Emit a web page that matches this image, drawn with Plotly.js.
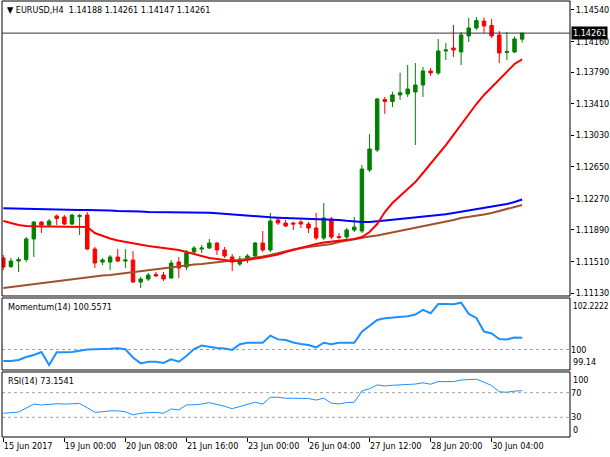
<!DOCTYPE html>
<html><head><meta charset="utf-8">
<script src="https://cdn.plot.ly/plotly-3.0.1.min.js"></script>
<style>html,body{margin:0;padding:0;background:#fff;}#chart{width:610px;height:457px;}</style>
</head><body><div id="chart"></div>
<script>
const symbol = "EURUSD,H4";
const open  = [1.11552,1.11448,1.11515,1.11533,1.11781,1.11985,1.11949,1.12058,1.12046,1.11961,1.12052,1.12070,1.11660,1.11503,1.11503,1.11564,1.11515,1.11528,1.11262,1.11299,1.11353,1.11347,1.11311,1.11503,1.11443,1.11624,1.11660,1.11672,1.11732,1.11648,1.11564,1.11479,1.11540,1.11576,1.11732,1.11648,1.12010,1.11973,1.11973,1.11985,1.11961,1.11913,1.11793,1.12022,1.11811,1.11805,1.11889,1.11877,1.12612,1.12853,1.13462,1.13437,1.13516,1.13528,1.13552,1.13636,1.13805,1.13781,1.14046,1.14082,1.14034,1.14227,1.14323,1.14407,1.14353,1.14239,1.14028,1.14034,1.14188];
const high  = [1.11588,1.11552,1.11564,1.11805,1.11997,1.11997,1.12022,1.12076,1.12070,1.12082,1.12082,1.12106,1.11684,1.11552,1.11588,1.11660,1.11660,1.11636,1.11323,1.11371,1.11383,1.11383,1.11528,1.11564,1.11648,1.11696,1.11708,1.11781,1.11744,1.11684,1.11600,1.11576,1.11600,1.11744,1.11877,1.12094,1.12034,1.12010,1.11991,1.12010,1.11985,1.12094,1.12214,1.12046,1.11853,1.11913,1.12046,1.12672,1.13046,1.13480,1.13492,1.13556,1.13784,1.13877,1.13901,1.13853,1.13841,1.14191,1.14142,1.14359,1.14275,1.14444,1.14456,1.14450,1.14432,1.14287,1.14275,1.14221,1.14261];
const low   = [1.11407,1.11431,1.11383,1.11503,1.11564,1.11853,1.11925,1.11949,1.11949,1.11949,1.11829,1.11648,1.11431,1.11467,1.11407,1.11503,1.11431,1.11250,1.11190,1.11274,1.11323,1.11274,1.11299,1.11311,1.11407,1.11612,1.11612,1.11660,1.11588,1.11552,1.11395,1.11455,1.11491,1.11564,1.11624,1.11624,1.11949,1.11925,1.11889,1.11913,1.11853,1.11769,1.11769,1.11781,1.11775,1.11781,1.11865,1.11853,1.12588,1.12829,1.13287,1.13371,1.13456,1.13492,1.12913,1.13492,1.13745,1.13757,1.13938,1.13974,1.13877,1.14154,1.14299,1.14263,1.14203,1.13901,1.13938,1.14022,1.14147];
const close = [1.11443,1.11515,1.11533,1.11781,1.11985,1.11949,1.11997,1.12028,1.11961,1.12070,1.12064,1.11660,1.11491,1.11528,1.11564,1.11515,1.11528,1.11262,1.11299,1.11347,1.11335,1.11299,1.11491,1.11431,1.11612,1.11672,1.11672,1.11732,1.11648,1.11576,1.11503,1.11540,1.11576,1.11732,1.11648,1.11997,1.11973,1.11937,1.11961,1.11961,1.11913,1.11793,1.12034,1.11805,1.11799,1.11889,1.11925,1.12624,1.12865,1.13468,1.13437,1.13516,1.13543,1.13588,1.13636,1.13805,1.13781,1.14046,1.14058,1.14058,1.14239,1.14323,1.14413,1.14347,1.14227,1.14022,1.14040,1.14191,1.14261];

const maRed   = [1.11997,1.11973,1.11949,1.11937,1.11931,1.11931,1.11931,1.11931,1.11925,1.11931,1.11931,1.11925,1.11853,1.11817,1.11787,1.11762,1.11744,1.11726,1.11708,1.11696,1.11684,1.11672,1.11666,1.11648,1.11624,1.11600,1.11576,1.11552,1.11540,1.11528,1.11515,1.11515,1.11528,1.11540,1.11558,1.11576,1.11594,1.11624,1.11648,1.11678,1.11696,1.11720,1.11738,1.11750,1.11756,1.11769,1.11781,1.11805,1.11865,1.11961,1.12106,1.12214,1.12299,1.12383,1.12467,1.12576,1.12684,1.12793,1.12913,1.13034,1.13160,1.13287,1.13407,1.13516,1.13612,1.13709,1.13805,1.13889,1.13944];
const maBlue  = [1.12150,1.12148,1.12142,1.12136,1.12136,1.12136,1.12136,1.12133,1.12133,1.12130,1.12130,1.12130,1.12130,1.12126,1.12124,1.12118,1.12118,1.12118,1.12112,1.12106,1.12106,1.12106,1.12102,1.12102,1.12102,1.12102,1.12100,1.12098,1.12090,1.12082,1.12076,1.12070,1.12062,1.12054,1.12048,1.12042,1.12038,1.12034,1.12030,1.12030,1.12028,1.12026,1.12022,1.12018,1.12010,1.12000,1.11991,1.11985,1.11985,1.11991,1.12004,1.12013,1.12022,1.12028,1.12038,1.12046,1.12052,1.12064,1.12078,1.12094,1.12110,1.12124,1.12140,1.12154,1.12170,1.12187,1.12202,1.12227,1.12257];
const maBrown = [1.11190,1.11202,1.11214,1.11226,1.11238,1.11250,1.11262,1.11274,1.11287,1.11299,1.11311,1.11323,1.11329,1.11341,1.11347,1.11359,1.11371,1.11383,1.11395,1.11401,1.11413,1.11425,1.11437,1.11449,1.11461,1.11473,1.11479,1.11491,1.11503,1.11515,1.11521,1.11528,1.11540,1.11558,1.11570,1.11588,1.11612,1.11636,1.11654,1.11672,1.11684,1.11696,1.11708,1.11720,1.11744,1.11762,1.11781,1.11799,1.11811,1.11823,1.11841,1.11859,1.11881,1.11901,1.11919,1.11937,1.11955,1.11973,1.11991,1.12010,1.12034,1.12046,1.12064,1.12076,1.12094,1.12118,1.12142,1.12166,1.12191];

const momentum = [99.45,99.45,99.50,99.64,99.74,99.88,99.26,99.87,99.87,99.88,99.94,100.00,100.01,100.01,100.03,100.06,100.01,99.62,99.34,99.42,99.42,99.36,99.53,99.42,99.69,100.02,100.19,100.13,100.07,100.05,99.98,100.25,100.32,100.32,100.32,100.66,100.48,100.45,100.33,100.26,100.21,100.10,100.32,100.25,100.32,100.32,100.32,100.85,101.12,101.40,101.48,101.51,101.54,101.58,101.66,101.88,101.72,102.16,102.16,102.15,102.2222,101.69,101.50,100.85,100.76,100.50,100.48,100.57,100.5571];
const rsi = [36.6,37.5,38.5,45,51.5,50,51,52,51.5,52,52.5,45.5,38.2,39,40.5,40.5,39,34,36.5,37.5,38,36.6,43.6,42,50,50.5,51.5,53.8,51,48,44,47.3,50,54.5,51.5,62.6,62.6,61,61,61,60.5,58,61,53,51.7,53.8,54.5,72.8,76.5,82.6,81,82,82.6,82.6,84,86,83.7,88,88,88,90.5,90.7,91.9,87,81.5,71.5,70.7,72.5,73.1541];

const timeTickIdx  = [0,8,16,24,32,40,48,56,64];
const timeTickText = ["15 Jun 2017","19 Jun 00:00","20 Jun 08:00","21 Jun 16:00","23 Jun 00:00","26 Jun 04:00","27 Jun 12:00","28 Jun 20:00","30 Jun 04:00"];
const priceTicks = [1.14540,1.14160,1.13790,1.13410,1.13030,1.12650,1.12270,1.11890,1.11510,1.11130];
const momLevels = [100];
const momMaxLabel = "102.2222", momMinLabel = "99.14";
const rsiLevels = [70,30];
const rsiMaxLabel = "100", rsiMinLabel = "0";

const FONT = "Tahoma, 'DejaVu Sans Condensed', 'Liberation Sans', Arial, sans-serif";
const idx = open.map((_, i) => i);
const last = open.length - 1;
const f5 = v => v.toFixed(5);

const traces = [
  {type:'candlestick', x:idx, open:open, high:high, low:low, close:close, xaxis:'x', yaxis:'y',
   increasing:{line:{color:'#008000',width:1}, fillcolor:'#008000'},
   decreasing:{line:{color:'#ff0000',width:1}, fillcolor:'#ff0000'},
   whiskerwidth:0, hoverinfo:'skip', showlegend:false},
  {type:'scatter', mode:'lines', x:idx, y:maBrown, xaxis:'x', yaxis:'y', line:{color:'#a0522d',width:2}, hoverinfo:'skip', showlegend:false},
  {type:'scatter', mode:'lines', x:idx, y:maBlue, xaxis:'x', yaxis:'y', line:{color:'#0000ff',width:2}, hoverinfo:'skip', showlegend:false},
  {type:'scatter', mode:'lines', x:idx, y:maRed, xaxis:'x', yaxis:'y', line:{color:'#ff0000',width:2}, hoverinfo:'skip', showlegend:false},
  {type:'scatter', mode:'lines', x:idx, y:momentum, xaxis:'x', yaxis:'y2', line:{color:'#1e90ff',width:2}, hoverinfo:'skip', showlegend:false},
  {type:'scatter', mode:'lines', x:idx, y:rsi, xaxis:'x', yaxis:'y3', line:{color:'#1e90ff',width:1}, hoverinfo:'skip', showlegend:false}
];

const shapes = [];
['y','y2','y3'].forEach(a => shapes.push({type:'rect', xref:'paper', x0:0, x1:1, yref:a+' domain', y0:0, y1:1, line:{color:'#000',width:1}, layer:'above'}));
momLevels.forEach(v => shapes.push({type:'line', xref:'paper', x0:0, x1:1, yref:'y2', y0:v, y1:v, line:{color:'#a0a0a0',width:1,dash:'dot'}, layer:'below'}));
rsiLevels.forEach(v => shapes.push({type:'line', xref:'paper', x0:0, x1:1, yref:'y3', y0:v, y1:v, line:{color:'#a0a0a0',width:1,dash:'dot'}, layer:'below'}));
shapes.push({type:'line', xref:'paper', x0:0, x1:1, yref:'y', y0:close[last], y1:close[last], line:{color:'#333',width:1}, layer:'above'});

const tf = {family:FONT, size:9, color:'#000'};
const tfs = {family:FONT, size:8.3, color:'#000'};
const annotations = [
  {xref:'paper', yref:'paper', x:0, y:1, xanchor:'left', yanchor:'top', xshift:3, yshift:-2, showarrow:false, font:tf,
   text:'▼ ' + symbol + '  ' + [open[last],high[last],low[last],close[last]].map(f5).join(' ')},
  {xref:'paper', yref:'y2 domain', x:0, y:1, xanchor:'left', yanchor:'top', xshift:4, yshift:-2, showarrow:false, font:tf,
   text:'Momentum(14) ' + momentum[last].toFixed(4)},
  {xref:'paper', yref:'y3 domain', x:0, y:1, xanchor:'left', yanchor:'top', xshift:4, yshift:-2, showarrow:false, font:tf,
   text:'RSI(14) ' + rsi[last].toFixed(4)},
  {xref:'paper', yref:'y', x:1, y:close[last], xanchor:'left', yanchor:'middle', xshift:1, showarrow:false,
   font:{family:FONT, size:9, color:'#fff'}, bgcolor:'#000', borderpad:1, text:f5(close[last])},
  {xref:'paper', yref:'y2 domain', x:1, y:1, xanchor:'left', yanchor:'top', xshift:1, yshift:-1, showarrow:false, font:tfs, text:momMaxLabel},
  {xref:'paper', yref:'y2 domain', x:1, y:0, xanchor:'left', yanchor:'bottom', xshift:1, yshift:1, showarrow:false, font:tf, text:momMinLabel},
  {xref:'paper', yref:'y3 domain', x:1, y:1, xanchor:'left', yanchor:'top', xshift:1, yshift:-1, showarrow:false, font:tf, text:rsiMaxLabel},
  {xref:'paper', yref:'y3 domain', x:1, y:0, xanchor:'left', yanchor:'bottom', xshift:1, yshift:0, showarrow:false, font:tf, text:rsiMinLabel}
];

const yCommon = {side:'right', anchor:'x', showgrid:false, zeroline:false, showline:false, ticks:'outside', ticklen:3, tickcolor:'#000', tickfont:tf, fixedrange:true};
const layout = {
  width:610, height:457, margin:{l:2, r:40, t:1, b:20},
  paper_bgcolor:'#fff', plot_bgcolor:'#fff', showlegend:false, hovermode:false, boxgap:0.35,
  font:tf,
  xaxis:{domain:[0,1], anchor:'y3', range:[-0.17, 74.27], showgrid:false, zeroline:false, showline:false,
         ticks:'outside', ticklen:4, tickcolor:'#000', tickvals:timeTickIdx, ticktext:timeTickText,
         ticklabelposition:'outside right', tickfont:tf, rangeslider:{visible:false}, fixedrange:true},
  yaxis:Object.assign({}, yCommon, {domain:[0.3234,1], range:[1.11094,1.14648], tickvals:priceTicks, ticktext:priceTicks.map(f5)}),
  yaxis2:Object.assign({}, yCommon, {domain:[0.1537,0.3188], range:[99.027,102.445], tickvals:momLevels, ticktext:momLevels.map(String), ticks:''}),
  yaxis3:Object.assign({}, yCommon, {domain:[0,0.1491], range:[-1.95,103.57], tickvals:rsiLevels, ticktext:rsiLevels.map(String), ticks:''}),
  shapes:shapes, annotations:annotations
};
Plotly.newPlot('chart', traces, layout, {staticPlot:true, displayModeBar:false});
</script></body></html>
